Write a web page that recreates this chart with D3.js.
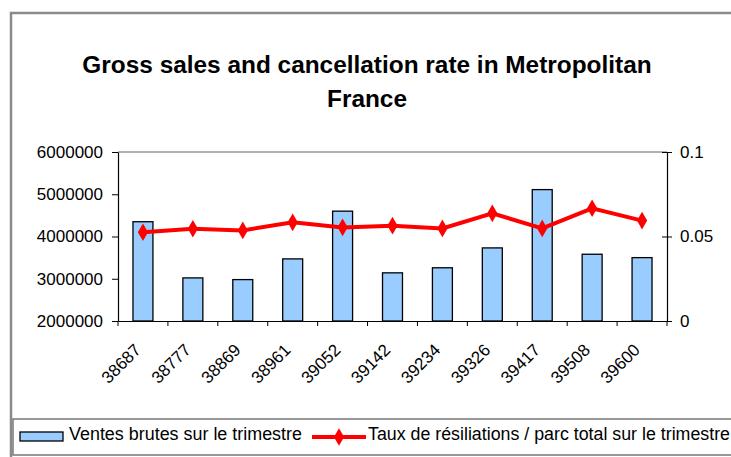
<!DOCTYPE html>
<html>
<head>
<meta charset="utf-8">
<script src="https://cdn.jsdelivr.net/npm/d3@7"></script>
<style>
  body { margin: 0; background: #fff; }
  svg { display: block; font-family: "Liberation Sans", Arial, sans-serif; }
</style>
</head>
<body>
<svg id="chart" width="731" height="457"></svg>
<script>
// quarter labels (Excel date serials, as shown on the chart)
const quarters = ["38687", "38777", "38869", "38961", "39052", "39142", "39234", "39326", "39417", "39508", "39600"];
// gross sales for the quarter (left axis)
const grossSales = [4350000, 3020000, 2980000, 3470000, 4600000, 3140000, 3260000, 3730000, 5110000, 3580000, 3500000];
// cancellation rate / total base (right axis)
const cancelRate = [0.0525, 0.0546, 0.0536, 0.0584, 0.0554, 0.0564, 0.0548, 0.0637, 0.0548, 0.0667, 0.0594];
const leftTicks = [2000000, 3000000, 4000000, 5000000, 6000000];
const rightTicks = [0, 0.05, 0.1];

const svg = d3.select("#chart");
const plot = { left: 118, right: 667, top: 152, bottom: 321 };
const labelFont = 17;

// chart frame
svg.append("rect")
    .attr("x", 11).attr("y", 13)
    .attr("width", 740).attr("height", 460)
    .attr("fill", "#fff")
    .attr("stroke", "#8a8a8a")
    .attr("stroke-width", 2.5);

// title
const title = svg.append("text")
    .attr("text-anchor", "middle")
    .attr("font-weight", "bold")
    .attr("font-size", 24.4)
    .attr("fill", "#000");
title.append("tspan").attr("x", 367).attr("y", 73).text("Gross sales and cancellation rate in Metropolitan");
title.append("tspan").attr("x", 367).attr("y", 107).text("France");

const x = d3.scaleBand().domain(quarters).range([plot.left, plot.right]).paddingInner(0.6).paddingOuter(0.3);
const xOuter = d3.scaleBand().domain(quarters).range([plot.left, plot.right]);
const yLeft = d3.scaleLinear().domain([2000000, 6000000]).range([plot.bottom, plot.top]);
const yRight = d3.scaleLinear().domain([0, 0.1]).range([plot.bottom, plot.top]);

// top border of plot area
svg.append("line")
    .attr("x1", plot.left).attr("x2", plot.right)
    .attr("y1", plot.top).attr("y2", plot.top)
    .attr("stroke", "#999").attr("stroke-width", 1.5);

// bars
svg.append("g").selectAll("rect")
    .data(grossSales)
    .join("rect")
    .attr("x", (d, i) => x(quarters[i]))
    .attr("y", d => yLeft(d))
    .attr("width", x.bandwidth())
    .attr("height", d => plot.bottom - yLeft(d))
    .attr("fill", "#99ccff")
    .attr("stroke", "#000")
    .attr("stroke-width", 1.3);

// left axis
const gL = svg.append("g")
    .attr("transform", `translate(${plot.left},0)`)
    .call(d3.axisLeft(yLeft).tickValues(leftTicks).tickFormat(d3.format("d")).tickSizeInner(6).tickSizeOuter(0).tickPadding(9));
gL.selectAll("text").attr("font-size", labelFont).attr("font-family", "Liberation Sans, Arial, sans-serif");

// right axis (ticks cross the line)
const gR = svg.append("g")
    .attr("transform", `translate(${plot.right},0)`)
    .call(d3.axisRight(yRight).tickValues(rightTicks).tickFormat(d => d3.format("")(d)).tickSizeInner(5).tickSizeOuter(0).tickPadding(8));
gR.selectAll(".tick line").attr("x1", -5);
gR.selectAll("text").attr("font-size", labelFont).attr("font-family", "Liberation Sans, Arial, sans-serif");

// x axis
const gX = svg.append("g")
    .attr("transform", `translate(0,${plot.bottom})`)
    .call(d3.axisBottom(xOuter).tickSize(0).tickPadding(0));
gX.select(".domain").attr("stroke", "#000");
gX.selectAll(".tick text")
    .attr("font-size", labelFont)
    .attr("font-family", "Liberation Sans, Arial, sans-serif")
    .attr("text-anchor", "end")
    .attr("dy", 0)
    .attr("transform", "translate(-1,30) rotate(-45)");
// category separator ticks
gX.append("g").selectAll("line")
    .data(quarters.concat(["end"]))
    .join("line")
    .attr("x1", (d, i) => plot.left + i * xOuter.step())
    .attr("x2", (d, i) => plot.left + i * xOuter.step())
    .attr("y1", 0).attr("y2", 5)
    .attr("stroke", "#000");
svg.selectAll(".domain").attr("stroke-width", 1.2);

// rate line
const line = d3.line()
    .x((d, i) => xOuter(quarters[i]) + xOuter.bandwidth() / 2)
    .y(d => yRight(d));
svg.append("path")
    .datum(cancelRate)
    .attr("d", line)
    .attr("fill", "none")
    .attr("stroke", "#ff0000")
    .attr("stroke-width", 4);
const diamond = d3.symbol().type(d3.symbolDiamond).size(90);
svg.append("g").selectAll("path")
    .data(cancelRate)
    .join("path")
    .attr("d", diamond)
    .attr("transform", (d, i) => `translate(${xOuter(quarters[i]) + xOuter.bandwidth() / 2},${yRight(d)})`)
    .attr("fill", "#ff0000");

// legend
const leg = svg.append("g");
leg.append("rect")
    .attr("x", 13).attr("y", 419)
    .attr("width", 740).attr("height", 36)
    .attr("fill", "#fff")
    .attr("stroke", "#777")
    .attr("stroke-width", 1.5);
leg.append("rect")
    .attr("x", 20).attr("y", 432)
    .attr("width", 43).attr("height", 9)
    .attr("fill", "#99ccff")
    .attr("stroke", "#000")
    .attr("stroke-width", 1.3);
leg.append("text")
    .attr("x", 69).attr("y", 440)
    .attr("font-size", 17.5)
    .attr("textLength", 233)
    .attr("lengthAdjust", "spacingAndGlyphs")
    .text("Ventes brutes sur le trimestre");
leg.append("line")
    .attr("x1", 312).attr("x2", 366)
    .attr("y1", 437).attr("y2", 437)
    .attr("stroke", "#ff0000").attr("stroke-width", 4);
leg.append("path")
    .attr("d", diamond)
    .attr("transform", "translate(339,437)")
    .attr("fill", "#ff0000");
leg.append("text")
    .attr("x", 368).attr("y", 440)
    .attr("font-size", 17.5)
    .attr("textLength", 362)
    .attr("lengthAdjust", "spacingAndGlyphs")
    .text("Taux de résiliations / parc total sur le trimestre");
</script>
</body>
</html>
